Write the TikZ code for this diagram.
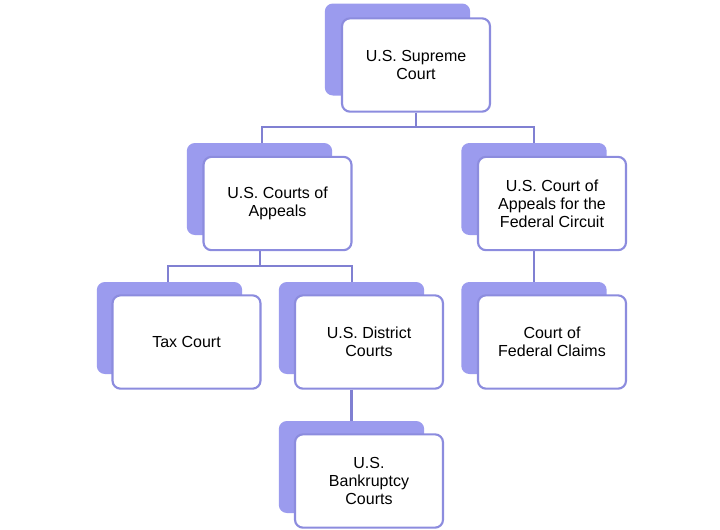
\documentclass[tikz,border=0pt]{standalone}
\usepackage{fontspec}
\setmainfont{Liberation Sans}
\usetikzlibrary{positioning,calc}
\definecolor{backblue}{RGB}{155,155,238}
\definecolor{edgeblue}{RGB}{140,140,222}
\definecolor{linkblue}{RGB}{128,128,210}
\tikzset{
  front/.style={draw=edgeblue, line width=1.6pt, fill=white, rounded corners=6pt,
    minimum width=111pt, minimum height=70pt, align=center, inner sep=2pt,
    font=\fontsize{12}{13.5}\selectfont},
  back/.style={fill=backblue, rounded corners=6pt, minimum width=109pt, minimum height=69pt},
  link/.style={draw=linkblue, line width=1.6pt}
}
\begin{document}
\begin{tikzpicture}[x=0.75pt,y=-0.75pt]
  \useasboundingbox (0,0) rectangle (720,529);
  % back shadows
  \foreach \n/\x/\y in {sup/397.5/49.5, app/259.5/189, fed/534/189, tax/169.5/328,
                        dis/351.5/328, cla/534/328, ban/351.5/467}
    \node[back] (b\n) at (\x,\y) {};
  % front boxes
  \node[front] (sup) at (416,65) {U.S. Supreme\\Court};
  \node[front] (app) at (277.5,203.5) {U.S. Courts of\\Appeals};
  \node[front] (fed) at (552,203.5) {U.S. Court of\\Appeals for the\\Federal Circuit};
  \node[front] (tax) at (186.5,342) {Tax Court};
  \node[front] (dis) at (369,342) {U.S. District\\Courts};
  \node[front] (cla) at (552,342) {Court of\\Federal Claims};
  \node[front] (ban) at (369,481) {U.S.\\Bankruptcy\\Courts};
  % connectors
  \coordinate (j1) at (416,127);
  \coordinate (j2) at (260,266);
  \draw[link] (sup.south) -- (j1);
  \draw[link] (bapp.north -| app.west) ++(59,0) coordinate (a1);
  \draw[link] (262,143) |- (j1) -| (534,143);
  \draw[link] (app.south -| j2) -- (j2);
  \draw[link] (168,282) |- (j2) -| (352,282);
  \draw[link] (fed.south -| cla) ++(-18,0) -- ($(bcla.north)$);
  \draw[link] (dis.south -| bdis) -- (bban.north);
\end{tikzpicture}
\end{document}
